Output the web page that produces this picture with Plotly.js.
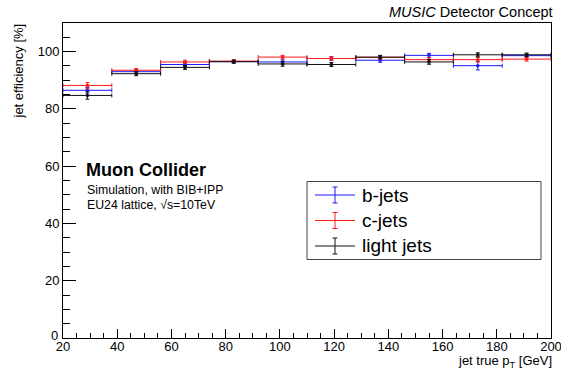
<!DOCTYPE html>
<html>
<head>
<meta charset="utf-8">
<script src="https://cdn.plot.ly/plotly-3.0.1.min.js"></script>
<style>html,body{margin:0;padding:0;background:#fff;}#chart{width:561px;height:370px;}</style>
</head>
<body>
<div id="chart"></div>
<script>
// ---- data ----
const binCenters = [29, 47, 65, 83, 101, 119, 137, 155, 173, 191]; // jet true pT [GeV]
const binHalfWidth = [9, 9, 9, 9, 9, 9, 9, 9, 9, 9];
const bEff = [86.5, 93.0, 95.5, 96.5, 96.4, 97.6, 97.0, 98.7, 95.1, 98.6];
const bErr = [1.0, 0.6, 0.7, 0.5, 0.7, 0.6, 0.7, 0.7, 1.5, 0.6];
const cEff = [88.2, 93.5, 96.4, 96.7, 98.1, 97.6, 98.0, 97.2, 97.2, 97.4];
const cErr = [1.0, 0.6, 0.6, 0.5, 0.6, 0.6, 0.6, 0.7, 0.8, 0.7];
const lEff = [84.7, 92.3, 94.5, 96.5, 95.7, 95.5, 98.1, 96.4, 98.9, 98.9];
const lErr = [1.3, 0.7, 0.7, 0.5, 0.8, 0.7, 0.6, 0.8, 0.7, 0.6];
const seriesNames = ['b-jets', 'c-jets', 'light jets'];
const xTickVals = [20, 40, 60, 80, 100, 120, 140, 160, 180, 200];
const yTickVals = [0, 20, 40, 60, 80, 100];

// ---- style ----
const colors = ['#1a1aff', '#ff1a1a', '#111111'];
const FONT = 'Liberation Sans, Arial, Helvetica, sans-serif';
const W = 561, H = 370, L = 63, R = 10, T = 23, B = 32;
const PW = W - L - R, PH = H - T - B;
const px = x => (x - L) / PW;
const py = y => (H - B - y) / PH;

const effs = [bEff, cEff, lEff];
const errs = [bErr, cErr, lErr];
const traces = effs.map((e, i) => ({
  type: 'scatter', mode: 'markers',
  x: binCenters, y: e, name: seriesNames[i],
  marker: {color: colors[i], size: 3.5},
  error_x: {type: 'data', array: binHalfWidth, color: colors[i], thickness: 1, width: 2},
  error_y: {type: 'data', array: errs[i], color: colors[i], thickness: 1, width: 2},
  showlegend: false, hoverinfo: 'skip'
}));

// legend drawn manually (ROOT style)
const shapes = [{type: 'rect', xref: 'paper', yref: 'paper', x0: px(307), x1: px(541), y0: py(259.5), y1: py(181.5),
  line: {color: '#444', width: 1}, fillcolor: 'rgba(255,255,255,0)'}];
const annotations = [];
const legY = [195, 220.5, 246];
seriesNames.forEach((n, i) => {
  const yc = py(legY[i]);
  shapes.push({type: 'line', xref: 'paper', yref: 'paper', x0: px(315), x1: px(355), y0: yc, y1: yc, line: {color: colors[i], width: 1}});
  shapes.push({type: 'line', xref: 'paper', yref: 'paper', x0: px(335), x1: px(335), y0: py(legY[i] - 8), y1: py(legY[i] + 8), line: {color: colors[i], width: 1}});
  shapes.push({type: 'line', xref: 'paper', yref: 'paper', x0: px(332.5), x1: px(337.5), y0: py(legY[i] - 8), y1: py(legY[i] - 8), line: {color: colors[i], width: 1}});
  shapes.push({type: 'line', xref: 'paper', yref: 'paper', x0: px(332.5), x1: px(337.5), y0: py(legY[i] + 8), y1: py(legY[i] + 8), line: {color: colors[i], width: 1}});
  annotations.push({xref: 'paper', yref: 'paper', x: px(360), y: yc, xanchor: 'left', yanchor: 'middle',
    text: n, showarrow: false, font: {family: FONT, size: 19, color: '#000'}});
});

annotations.push(
  {xref: 'paper', yref: 'paper', x: px(84), y: py(170), xanchor: 'left', yanchor: 'middle', showarrow: false,
   text: '<b>Muon Collider</b>', font: {family: FONT, size: 18, color: '#000'}},
  {xref: 'paper', yref: 'paper', x: px(85), y: py(190), xanchor: 'left', yanchor: 'middle', showarrow: false,
   text: 'Simulation, with BIB+IPP', font: {family: FONT, size: 12.3, color: '#000'}},
  {xref: 'paper', yref: 'paper', x: px(85), y: py(205), xanchor: 'left', yanchor: 'middle', showarrow: false,
   text: 'EU24 lattice, √s=10TeV', font: {family: FONT, size: 12.3, color: '#000'}},
  {xref: 'paper', yref: 'paper', x: px(555), y: py(12), xanchor: 'right', yanchor: 'middle', showarrow: false,
   text: '<i>MUSIC</i> Detector Concept', font: {family: FONT, size: 14.5, color: '#000'}},
  {xref: 'paper', yref: 'paper', x: px(554), y: py(361), xanchor: 'right', yanchor: 'middle', showarrow: false,
   text: 'jet true p<sub>T</sub> [GeV]', font: {family: FONT, size: 13, color: '#000'}},
  {xref: 'paper', yref: 'paper', x: px(18), y: py(22), xanchor: 'center', yanchor: 'top', showarrow: false, textangle: -90,
   text: 'jet efficiency [%]', font: {family: FONT, size: 13, color: '#000'}},
  // ROOT places the y "0" label slightly above-left of the corner
  {xref: 'paper', yref: 'y', x: px(60), y: yTickVals[0], yshift: 3, xanchor: 'right', yanchor: 'middle', showarrow: false,
   text: String(yTickVals[0]), font: {family: FONT, size: 13, color: '#000'}}
);

const layout = {
  width: W, height: H,
  margin: {l: L, r: R, t: T, b: B, pad: 0},
  paper_bgcolor: '#fff', plot_bgcolor: '#fff',
  font: {family: FONT, size: 13, color: '#000'},
  showlegend: false,
  xaxis: {range: [20, 200], tickvals: xTickVals, ticktext: xTickVals.map(String),
    ticks: 'inside', ticklen: 9, tickwidth: 1, tickcolor: '#000', ticklabeloverflow: 'allow', ticklabelstandoff: -4,
    showline: true, linecolor: '#000', linewidth: 1, mirror: true,
    showgrid: false, zeroline: false, tickfont: {family: FONT, size: 13},
    minor: {dtick: 5, tick0: 20, ticks: 'inside', ticklen: 5, tickcolor: '#000', tickwidth: 1, showgrid: false}},
  yaxis: {range: [0, 110], tickvals: yTickVals, ticktext: yTickVals.map(v => v === 0 ? '' : String(v)),
    ticks: 'inside', ticklen: 13, tickwidth: 1, tickcolor: '#000',
    showline: true, linecolor: '#000', linewidth: 1, mirror: true,
    showgrid: false, zeroline: false, tickfont: {family: FONT, size: 13},
    minor: {dtick: 5, tick0: 0, ticks: 'inside', ticklen: 7, tickcolor: '#000', tickwidth: 1, showgrid: false}},
  shapes: shapes,
  annotations: annotations
};

Plotly.newPlot('chart', traces, layout, {staticPlot: true, displayModeBar: false});
</script>
</body>
</html>
